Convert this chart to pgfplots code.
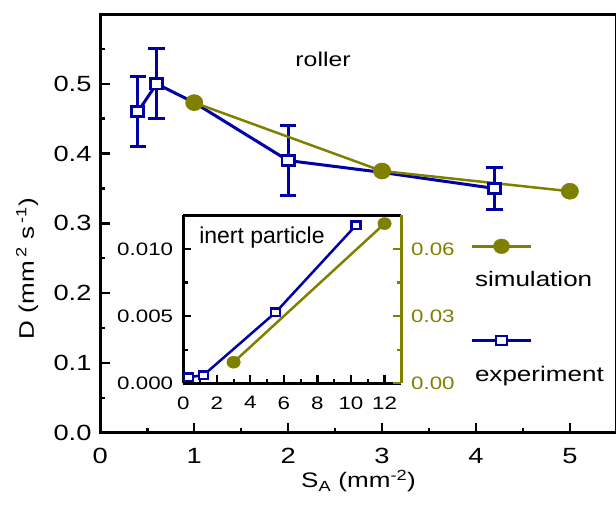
\documentclass[border=0pt]{standalone}
\usepackage{fontspec}
\setmainfont{Liberation Sans}[FakeStretch=1.24]
\setmathrm{Liberation Sans}[FakeStretch=1.24]
\newfontfamily\plainsans{Liberation Sans}
\newfontfamily\tickfont{Liberation Sans}[FakeStretch=1.24]
\usepackage{pgfplots}
\usepackage{pgfplotstable}
\pgfplotsset{compat=1.18}
\definecolor{expblue}{RGB}{0,0,165}
\definecolor{simolive}{RGB}{128,128,0}

% main panel: experiment (with error bars) and simulation
\pgfplotstableread{
x y err
0.4 0.460 0.05
0.6 0.500 0.05
2.0 0.390 0.05
4.2 0.350 0.03
}\expmarks
\pgfplotstableread{
x y
0.4 0.460
0.6 0.500
1.0 0.473
2.0 0.390
3.0 0.373
4.2 0.350
}\expline
\pgfplotstableread{
x y
1 0.473
3 0.375
5 0.346
}\simmain
% inset: inert particle
\pgfplotstableread{
x y
0.3 0.00045
1.2 0.00060
5.5 0.00527
10.3 0.01176
}\expinset
\pgfplotstableread{
x y
3 0.0094
12 0.0713
}\siminset

\begin{document}
\begin{tikzpicture}
\begin{axis}[
  at={(0,0)}, anchor=south west,
  scale only axis, width=516.5pt, height=418.7pt,
  xmin=0, xmax=5.5, ymin=0, ymax=0.6,
  xtick={0,1,2,3,4,5}, minor xtick={0.5,1.5,2.5,3.5,4.5},
  xticklabels={\mbox{0},\mbox{1},\mbox{2},\mbox{3},\mbox{4},\mbox{5}},
  ytick={0,0.1,0.2,0.3,0.4,0.5}, minor ytick={0.05,0.15,0.25,0.35,0.45,0.55},
  yticklabels={\mbox{0.0},\mbox{0.1},\mbox{0.2},\mbox{0.3},\mbox{0.4},\mbox{0.5}},
  scaled ticks=false,
  tick pos=left, tick align=inside,
  major tick length=9.5pt, minor tick length=5pt,
  every tick/.style={black, line width=2.5pt},
  axis line style={line width=3pt},
  tick label style={font=\tickfont\fontsize{22}{26}\selectfont},
  xticklabel style={anchor=north, inner sep=0pt, yshift=-15.3pt},
  yticklabel style={anchor=east, inner sep=0pt, xshift=-8.6pt},
  label style={font=\fontsize{21}{25}\selectfont},
  xlabel={S\textsubscript{A} (mm\textsuperscript{-2})},
  xlabel style={at={(axis description cs:0.5,-0.132)}, anchor=base},
  ylabel={D (mm\,\textsuperscript{2} s\,\textsuperscript{-1})},
  ylabel style={at={(axis description cs:-0.1284,0.392)}, anchor=base},
  clip=false,
  legend image code/.code={
    \draw[overlay, mark repeat=2, mark phase=2, #1]
      plot coordinates {(-1pt,40.7pt) (28.5pt,40.7pt) (58pt,40.7pt)};
  },
  legend style={at={(axis description cs:0.7216,0.391)}, anchor=north west,
    draw=none, fill=none, inner sep=0pt, outer sep=0pt,
    row sep=72.7pt, column sep=0pt, font=\fontsize{21}{25}\selectfont,
    cells={anchor=base west, inner sep=0pt, text height=16pt, text depth=5pt}},
]
\addplot[expblue, line width=3pt, forget plot] table {\expline};
\addplot[expblue, only marks, forget plot, mark=square*, mark size=5.2pt,
  mark options={fill=white, line width=2.8pt, xscale=1.16},
  error bars/.cd, y dir=both, y explicit,
  error bar style={line width=3pt},
  error mark options={rotate=90, line width=3pt, mark size=8.3pt}]
  table[y error=err] {\expmarks};
\addplot[simolive, line width=2.5pt, mark=*, mark size=8pt,
  mark options={line width=0.6pt, xscale=1.08}, forget plot] table {\simmain};

\addlegendimage{simolive, line width=2.5pt, mark=*, mark size=7.3pt,
  mark options={line width=0.5pt, xscale=1.1}}
\addlegendentry{simulation}
\addlegendimage{expblue, line width=2.5pt, mark=square*, mark size=4.5pt,
  mark options={fill=white, line width=2.5pt, xscale=1.25}}
\addlegendentry{experiment}

\node[anchor=base, font=\fontsize{20}{24}\selectfont] at (axis cs:2.372,0.5245) {roller};
\end{axis}

% inset, left axis (experiment)
\begin{axis}[
  at={(83pt,49.4pt)}, anchor=south west,
  scale only axis, width=218pt, height=168pt,
  xmin=0, xmax=13, ymin=0, ymax=0.0125,
  axis x line*=box, axis y line*=left,
  xtick={0,2,4,6,8,10,12}, minor xtick={1,3,5,7,9,11},
  xticklabels={\mbox{0},\mbox{2},\mbox{4},\mbox{6},\mbox{8},\mbox{10},\mbox{12}},
  ytick={0,0.005,0.01}, minor ytick={0.0025,0.0075},
  yticklabels={\mbox{0.000},\mbox{0.005},\mbox{0.010}},
  scaled ticks=false,
  xtick pos=left, ytick pos=left,
  tick align=inside, major tick length=8pt, minor tick length=4.5pt,
  every tick/.style={black, line width=2.2pt},
  axis line style={-, line width=2.6pt},
  tick label style={font=\tickfont\fontsize{18}{22}\selectfont},
  xticklabel style={anchor=north, inner sep=0pt, yshift=-13pt},
  yticklabel style={anchor=east, inner sep=0pt, xshift=-10pt},
  clip=false,
]
\addplot[expblue, line width=2.5pt, mark=square*, mark size=3.8pt,
  mark options={fill=white, line width=2.4pt, xscale=1.15}] table {\expinset};
\node[anchor=base, font=\plainsans\fontsize{23}{27}\selectfont] at (axis cs:4.69,0.01042) {inert particle};
\end{axis}

% inset, right axis (simulation)
\begin{axis}[
  at={(83pt,49.4pt)}, anchor=south west,
  scale only axis, width=218pt, height=168pt,
  xmin=0, xmax=13, ymin=0, ymax=0.075,
  axis x line=none, axis y line*=right,
  ytick={0,0.03,0.06}, minor ytick={0.015,0.045},
  yticklabels={\mbox{0.00},\mbox{0.03},\mbox{0.06}},
  scaled ticks=false,
  tick align=inside, major tick length=8pt, minor tick length=4.5pt,
  every tick/.style={simolive, line width=2.2pt},
  y axis line style={-, simolive, line width=2.6pt},
  tick label style={font=\tickfont\fontsize{18}{22}\selectfont},
  yticklabel style={simolive, anchor=west, inner sep=0pt, xshift=9.7pt},
  clip=false,
]
\addplot[simolive, line width=2.5pt, mark=*, mark size=6pt,
  mark options={line width=0.5pt, xscale=1.12}] table {\siminset};
\end{axis}

\pgfresetboundingbox
\path (-100.3pt,-71.3pt) rectangle (515.7pt,432.7pt);
\end{tikzpicture}
\end{document}
